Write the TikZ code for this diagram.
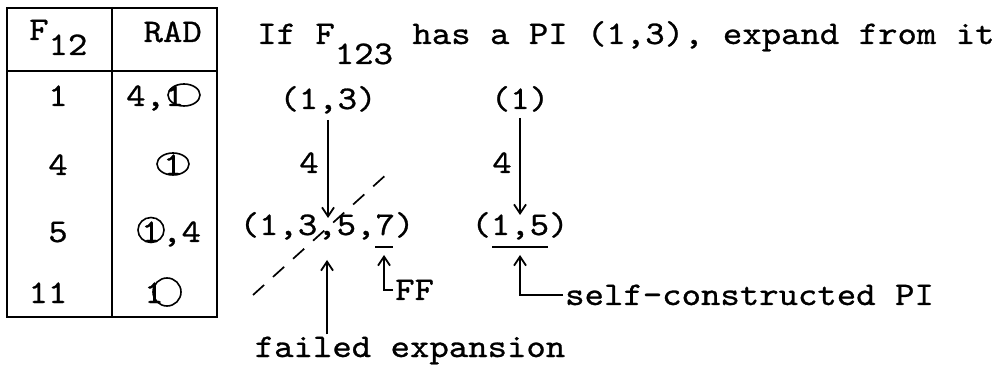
\documentclass[tikz,border=0pt]{standalone}
\usepackage{fontspec}
\newfontfamily\tw{lmmono10-regular.otf}[FakeStretch=1.12,FakeBold=0.8]
\usetikzlibrary{arrows.meta,shapes.geometric}
\begin{document}
\begin{tikzpicture}[x=1pt,y=-1pt,
  txt/.style={inner sep=0pt, font=\tw\fontsize{33}{36}\selectfont},
  tbl/.style={line width=2pt},
  arr/.style={line width=1.8pt, -{Straight Barb[length=9pt,width=12pt]}},
  oval/.style={ellipse, draw, line width=1.6pt, inner sep=0pt},
  dashline/.style={line width=1.7pt, dash pattern=on 15pt off 12pt},
  uline/.style={line width=1.7pt}]
\useasboundingbox (0,0) rectangle (1001,379);
% table
\node[draw, tbl, minimum width=210pt, minimum height=309pt, inner sep=0pt] (table) at (112,162.5) {};
\coordinate (dv) at (112,71);
\draw[tbl] (table.north -| dv) -- (table.south -| dv);
\draw[tbl] (table.west |- dv) -- (table.east |- dv);
\node[txt, anchor=base west] (hF) at (29,40) {F\raisebox{-15pt}{12}};
\node[txt, anchor=base east] (hR) at (202,42) {RAD};
\node[txt, anchor=base] (r1a) at (58,106) {1};
\node[txt, anchor=base west] (r1b) at (126,106) {4,1};
\node[oval, minimum width=32pt, minimum height=22pt] (o1) at (184,95) {};
\node[txt, anchor=base] (r2a) at (58,175) {4};
\node[txt, anchor=base] (r2b) at (173,175) {1};
\node[oval, minimum width=32pt, minimum height=22pt] (o2) at (173,164) {};
\node[txt, anchor=base] (r3a) at (58,242) {5};
\node[txt, anchor=base] (r3b) at (151,242) {1};
\node[oval, minimum width=26pt, minimum height=25pt] (o3) at (151,230) {};
\node[txt, anchor=base west] (r3c) at (162,242) {,4};
\node[txt, anchor=base] (r4a) at (48,303) {11};
\node[txt, anchor=base] (r4b) at (154,303) {1};
\node[oval, minimum width=28pt, minimum height=28pt] (o4) at (167,292) {};
% title
\node[txt, anchor=base west] (title) at (257,44) {If F\raisebox{-20pt}{123} has a PI (1,3), expand from it};
% diagram
\node[txt, anchor=base] (a13) at (328,109) {(1,3)};
\node[txt, anchor=base] (a1) at (520,109) {(1)};
\node[txt, anchor=base] (b1357) at (327,235) {(1,3,5,7)};
\node[txt, anchor=base] (b15) at (520,235) {(1,5)};
\node[txt, anchor=base] (l4a) at (309,173) {4};
\node[txt, anchor=base] (l4b) at (502,173) {4};
\node[txt, anchor=base west] (ff) at (395,300) {FF};
\node[txt, anchor=base west] (scpi) at (565,305) {self-constructed PI};
\node[txt, anchor=base] (fail) at (410,357) {failed expansion};
\coordinate (t1) at (328,218);
\coordinate (t2) at (520,215);
\coordinate (t3) at (327,260);
\coordinate (t4) at (384,255);
\coordinate (t5) at (520,255);
\draw[arr] ([yshift=-6pt]a13.south) -- (t1);
\draw[arr] ([yshift=-6pt]a1.south) -- (t2);
\draw[arr, shorten <=2pt] (t3 |- fail.north) -- (t3);
\draw[arr] ([xshift=-2pt]ff.west) -| (t4);
\draw[arr] ([xshift=-2pt]scpi.west) -| (t5);
\coordinate (u1) at (375,247); \coordinate (u2) at (393,247);
\coordinate (u3) at (492,247); \coordinate (u4) at (548,247);
\draw[uline] (u1) -- (u2);
\draw[uline] (u3) -- (u4);
\coordinate (d1) at (253,295); \coordinate (d2) at (388,173);
\draw[dashline] (d1) -- (d2);
\end{tikzpicture}
\end{document}
